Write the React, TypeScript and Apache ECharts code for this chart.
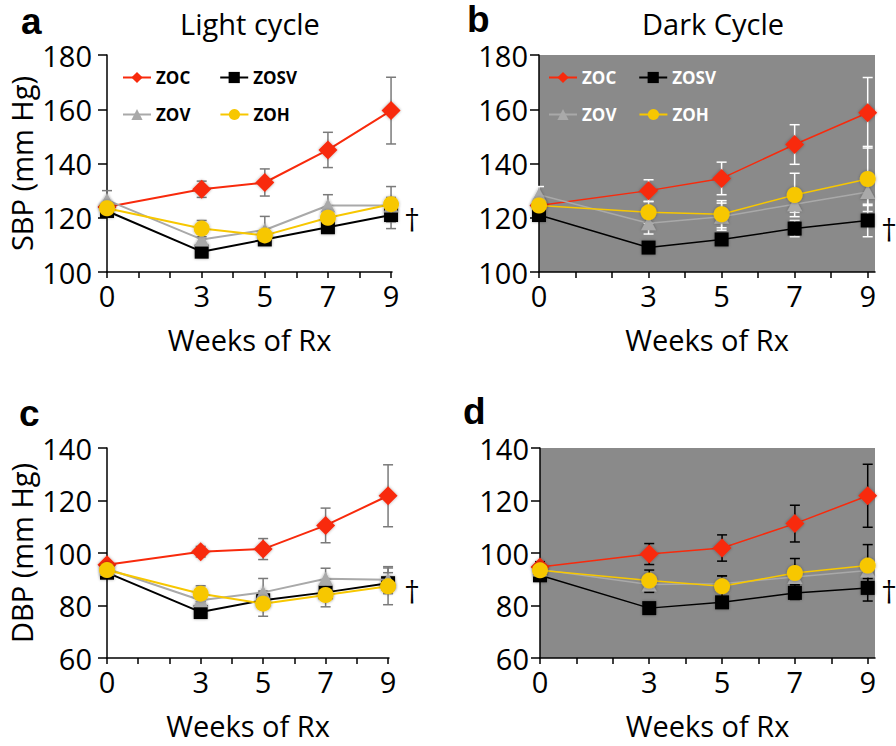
import React, { useEffect, useRef } from "react";
import * as echarts from "echarts";

// ---------- data ----------
const weeks = [0, 3, 5, 7, 9];
const xLabelWeeks = [0, 3, 5, 7, 9];
const xTickWeeks = [0, 1, 2, 3, 4, 5, 6, 7, 8, 9];
const groupNames = ["ZOC", "ZOSV", "ZOV", "ZOH"];

// a: SBP light cycle
const sbpLightZOC = [124, 130.5, 133, 145, 159.5];
const sbpLightZOCErr = [1.5, 3, 5, 6.5, 12.3];
const sbpLightZOSV = [122.5, 107.5, 112, 116.5, 121];
const sbpLightZOSVErr = [2, 2, 2, 2, 5];
const sbpLightZOV = [126.5, 112, 115.5, 124.5, 124.5];
const sbpLightZOVErr = [3.5, 2, 5, 4, 3];
const sbpLightZOH = [123.5, 116, 113.5, 120, 125];
const sbpLightZOHErr = [2, 3, 2, 2, 6.5];

// b: SBP dark cycle
const sbpDarkZOC = [124.5, 130, 134.5, 147, 158.7];
const sbpDarkZOCErr = [1.5, 4, 6, 7.3, 13];
const sbpDarkZOSV = [121, 109, 112, 116, 119];
const sbpDarkZOSVErr = [2, 2, 2, 3, 6];
const sbpDarkZOV = [128.5, 118, 120.4, 125, 129.5];
const sbpDarkZOVErr = [3, 4, 5, 3, 5];
const sbpDarkZOH = [124.5, 122, 121.3, 128.4, 134.3];
const sbpDarkZOHErr = [2, 4, 5, 8, 12];

// c: DBP light cycle
const dbpLightZOC = [95.5, 100.5, 101.5, 110.5, 121.8];
const dbpLightZOCErr = [1.5, 2, 4, 6.6, 11.8];
const dbpLightZOSV = [92.5, 77.5, 82, 85, 88.5];
const dbpLightZOSVErr = [2, 2, 2, 2, 4];
const dbpLightZOV = [94, 82, 85, 90.2, 89.8];
const dbpLightZOVErr = [2, 2, 5.3, 4, 5];
const dbpLightZOH = [93.5, 84.5, 80.7, 84, 87.3];
const dbpLightZOHErr = [2, 3, 4.8, 4.5, 7];

// d: DBP dark cycle
const dbpDarkZOC = [94.7, 99.6, 101.9, 111.2, 121.8];
const dbpDarkZOCErr = [2, 4, 5, 7, 12];
const dbpDarkZOSV = [91.5, 79, 81.2, 84.8, 86.7];
const dbpDarkZOSVErr = [2, 2, 2, 2.5, 5];
const dbpDarkZOV = [93.7, 88, 88.3, 90.9, 93.3];
const dbpDarkZOVErr = [2, 3, 3, 3, 3];
const dbpDarkZOH = [93.4, 89.5, 87.3, 92.4, 95.2];
const dbpDarkZOHErr = [2, 4, 4, 5.5, 8];

const sbpTicks = { min: 100, max: 180, interval: 20 };
const dbpTicks = { min: 60, max: 140, interval: 20 };

// ---------- styles ----------
const FONT = "Open Sans";
const colors: Record<string, string> = {
  ZOC: "#f82a0c",
  ZOSV: "#000000",
  ZOV: "#a9a9a9",
  ZOH: "#f7c700",
};
const symbols: Record<string, string> = {
  ZOC: "diamond",
  ZOSV: "rect",
  ZOV: "triangle",
  ZOH: "circle",
};
const symbolSizes: Record<string, number | number[]> = {
  ZOC: [19, 19],
  ZOSV: 14,
  ZOV: [15, 14],
  ZOH: 16,
};

type Panel = {
  grid: { left: number; top: number; width: number; height: number };
  xMax: number;
  y: { min: number; max: number; interval: number };
  yName: string;
  dark: boolean;
  errColor: string;
  lineWidth: number;
  yLabelMargin: number;
  means: number[][];
  errs: number[][];
};

const panels: Panel[] = [
  {
    grid: { left: 107, top: 55, width: 285, height: 217 },
    xMax: 9.03,
    y: sbpTicks,
    yName: "SBP (mm Hg)",
    dark: false,
    errColor: "#7a7a7a",
    lineWidth: 2,
    yLabelMargin: 15,
    means: [sbpLightZOC, sbpLightZOSV, sbpLightZOV, sbpLightZOH],
    errs: [sbpLightZOCErr, sbpLightZOSVErr, sbpLightZOVErr, sbpLightZOHErr],
  },
  {
    grid: { left: 539, top: 55, width: 336, height: 217 },
    xMax: 9.2,
    y: sbpTicks,
    yName: "",
    dark: true,
    errColor: "#ffffff",
    lineWidth: 1.5,
    yLabelMargin: 11,
    means: [sbpDarkZOC, sbpDarkZOSV, sbpDarkZOV, sbpDarkZOH],
    errs: [sbpDarkZOCErr, sbpDarkZOSVErr, sbpDarkZOVErr, sbpDarkZOHErr],
  },
  {
    grid: { left: 107, top: 448, width: 282, height: 210 },
    xMax: 9.03,
    y: dbpTicks,
    yName: "DBP (mm Hg)",
    dark: false,
    errColor: "#7a7a7a",
    lineWidth: 2,
    yLabelMargin: 15,
    means: [dbpLightZOC, dbpLightZOSV, dbpLightZOV, dbpLightZOH],
    errs: [dbpLightZOCErr, dbpLightZOSVErr, dbpLightZOVErr, dbpLightZOHErr],
  },
  {
    grid: { left: 540, top: 448, width: 335, height: 210 },
    xMax: 9.2,
    y: dbpTicks,
    yName: "",
    dark: true,
    errColor: "#000000",
    lineWidth: 1.5,
    yLabelMargin: 11,
    means: [dbpDarkZOC, dbpDarkZOSV, dbpDarkZOV, dbpDarkZOH],
    errs: [dbpDarkZOCErr, dbpDarkZOSVErr, dbpDarkZOVErr, dbpDarkZOHErr],
  },
];

function buildOption() {
  const grid: any[] = [];
  const xAxis: any[] = [];
  const yAxis: any[] = [];
  const series: any[] = [];

  panels.forEach((p, pi) => {
    grid.push({
      ...p.grid,
      show: p.dark,
      backgroundColor: p.dark ? "#8a8a8a" : "transparent",
      borderWidth: 0,
    });
    xAxis.push({
      gridIndex: pi,
      type: "value",
      min: 0,
      max: p.xMax,
      interval: 1,
      name: "Weeks of Rx",
      nameLocation: "middle",
      nameGap: 51,
      nameTextStyle: { fontFamily: FONT, fontSize: 29, lineHeight: 32, color: "#000" },
      axisLine: { show: true, lineStyle: { color: "#000", width: 1.5 } },
      axisTick: {
        show: true,
        length: 6,
        inside: false,
        customValues: xTickWeeks,
        lineStyle: { color: "#000", width: 1.5 },
      },
      axisLabel: {
        customValues: xLabelWeeks,
        margin: 9,
        fontFamily: FONT,
        fontSize: 29,
        color: "#000",
      },
      splitLine: { show: false },
    });
    yAxis.push({
      gridIndex: pi,
      type: "value",
      min: p.y.min,
      max: p.y.max,
      interval: p.y.interval,
      name: p.yName,
      nameLocation: "middle",
      nameRotate: 90,
      nameGap: 70,
      nameTextStyle: { fontFamily: FONT, fontSize: 29, lineHeight: 31, color: "#000" },
      axisLine: { show: true, lineStyle: { color: "#000", width: 1.5 } },
      axisTick: {
        show: true,
        length: 9,
        inside: false,
        lineStyle: { color: "#000", width: 1.5 },
      },
      axisLabel: {
        margin: p.yLabelMargin,
        fontFamily: FONT,
        fontSize: 29,
        color: "#000",
      },
      splitLine: { show: false },
    });

    // error bars (drawn beneath markers)
    p.means.forEach((vals, gi) => {
      const errs = p.errs[gi];
      series.push({
        type: "custom",
        name: groupNames[gi] + "-err",
        xAxisIndex: pi,
        yAxisIndex: pi,
        silent: true,
        z: 1,
        encode: { x: 0, y: [1, 2] },
        data: weeks.map((w, i) => [w, vals[i] - errs[i], vals[i] + errs[i]]),
        renderItem: (params: any, api: any) => {
          const x = api.value(0);
          const lo = api.coord([x, api.value(1)]);
          const hi = api.coord([x, api.value(2)]);
          const cap = 5;
          const style = { stroke: p.errColor, lineWidth: 1.5 };
          return {
            type: "group",
            children: [
              { type: "line", shape: { x1: lo[0], y1: lo[1], x2: hi[0], y2: hi[1] }, style },
              { type: "line", shape: { x1: lo[0] - cap, y1: lo[1], x2: lo[0] + cap, y2: lo[1] }, style },
              { type: "line", shape: { x1: hi[0] - cap, y1: hi[1], x2: hi[0] + cap, y2: hi[1] }, style },
            ],
          };
        },
      });
    });

    p.means.forEach((vals, gi) => {
      const name = groupNames[gi];
      series.push({
        type: "line",
        name,
        xAxisIndex: pi,
        yAxisIndex: pi,
        z: 3 + gi,
        data: weeks.map((w, i) => [w, vals[i]]),
        symbol: symbols[name],
        symbolSize: symbolSizes[name],
        showAllSymbol: true,
        lineStyle: { color: colors[name], width: p.lineWidth },
        itemStyle: {
          color: colors[name],
          shadowBlur: 3,
          shadowColor: "rgba(0,0,0,0.35)",
        },
        emphasis: { disabled: true },
      });
    });
  });

  const legendBase = {
    orient: "horizontal",
    padding: 0,
    itemWidth: 28,
    itemHeight: 14,
    selectedMode: false,
  };
  const lt = (color: string) => ({ fontFamily: FONT, fontWeight: "bold", fontSize: 17, color });
  const legend = [
    { ...legendBase, left: 122, top: 69, itemGap: 29, data: ["ZOC", "ZOSV"], textStyle: lt("#000") },
    { ...legendBase, left: 122, top: 106, itemGap: 29, data: ["ZOV", "ZOH"], textStyle: lt("#000") },
    { ...legendBase, left: 548, top: 69, itemGap: 22, data: ["ZOC", "ZOSV"], textStyle: lt("#fff") },
    { ...legendBase, left: 548, top: 106, itemGap: 22, data: ["ZOV", "ZOH"], textStyle: lt("#fff") },
  ];

  const txt = (text: string, x: number, y: number, size: number, bold = false, family = FONT, align = "left") => ({
    type: "text",
    x,
    y,
    silent: true,
    style: {
      text,
      fontFamily: family,
      fontSize: size,
      fontWeight: bold ? "bold" : "normal",
      fill: "#000",
      align,
      verticalAlign: "middle",
    },
  });

  const graphic = [
    txt("a", 21, 21, 37, true, "Liberation Sans"),
    txt("b", 467, 19, 37, true, "Liberation Sans"),
    txt("c", 19, 413, 37, true, "Liberation Sans"),
    txt("d", 463, 411, 37, true, "Liberation Sans"),
    txt("Light cycle", 250, 23, 29, false, FONT, "center"),
    txt("Dark Cycle", 713, 23, 29, false, FONT, "center"),
    txt("†", 412, 219, 27, false, "DejaVu Serif", "center"),
    txt("†", 889, 229, 27, false, "DejaVu Serif", "center"),
    txt("†", 412, 591, 27, false, "DejaVu Serif", "center"),
    txt("†", 889, 591, 27, false, "DejaVu Serif", "center"),
  ];

  return {
    animation: false,
    backgroundColor: "#ffffff",
    grid,
    xAxis,
    yAxis,
    legend,
    series,
    graphic,
  };
}

export default function App() {
  const ref = useRef<HTMLDivElement>(null);
  useEffect(() => {
    if (!ref.current) return;
    const chart = echarts.init(ref.current, undefined, { renderer: "svg" });
    chart.setOption(buildOption() as any);
    return () => chart.dispose();
  }, []);
  return (
    <div
      ref={ref}
      style={{ position: "fixed", left: 0, top: 0, width: 896, height: 746, background: "#fff" }}
    />
  );
}
